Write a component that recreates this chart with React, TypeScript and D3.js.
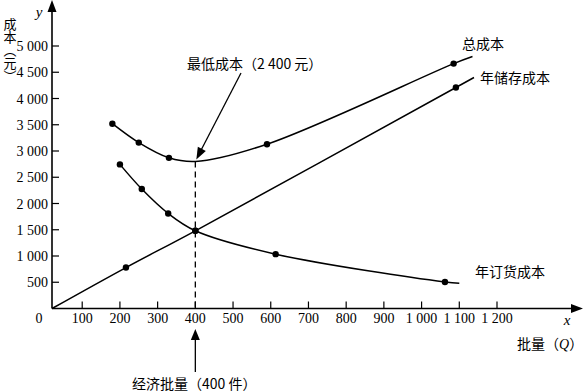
import React from "react";
import * as d3 from "d3";

// axis ticks
const quantityTicks = [100, 200, 300, 400, 500, 600, 700, 800, 900, 1000, 1100, 1200];
const quantityTickLabels = ["100", "200", "300", "400", "500", "600", "700", "800", "900", "1 000", "1 100", "1 200"];
const costTicks = [500, 1000, 1500, 2000, 2500, 3000, 3500, 4000, 4500, 5000];
const costTickLabels = ["500", "1 000", "1 500", "2 000", "2 500", "3 000", "3 500", "4 000", "4 500", "5 000"];

// 总成本
const totalQ = [180, 250, 330, 400, 590, 1085, 1135];
const totalCost = [3520, 3160, 2870, 2800, 3130, 4665, 4800];
const totalDot = [true, true, true, false, true, true, false];

// 年储存成本
const storageQ = [20, 216, 400, 1091, 1139];
const storageCost = [0, 780, 1480, 4210, 4400];
const storageDot = [false, true, true, true, false];

// 年订货成本
const orderQ = [200, 258, 328, 400, 613, 1062, 1100];
const orderCost = [2745, 2275, 1810, 1480, 1035, 505, 480];
const orderDot = [true, true, true, true, true, true, false];

const economicQ = 400;
const minTotal = 2800;

const W = 583;
const H = 392;
const originX = 52;
const serif = "'Liberation Serif', 'Times New Roman', 'DejaVu Serif', serif";
const cjk = "'Noto Sans CJK SC', sans-serif";

// filled arrow head, tip at (x2,y2)
function head(x1: number, y1: number, x2: number, y2: number, len: number, hw: number) {
  const a = Math.atan2(y2 - y1, x2 - x1);
  const bx = x2 - len * Math.cos(a);
  const by = y2 - len * Math.sin(a);
  const px = -Math.sin(a) * hw;
  const py = Math.cos(a) * hw;
  return `${x2},${y2} ${bx + px},${by + py} ${bx - px},${by - py}`;
}

export default function App() {
  const x = d3.scaleLinear().domain([0, 1200]).range([44.5, 497]);
  const y = d3.scaleLinear().domain([0, 5000]).range([308.5, 46]);
  const y0 = y(0);

  const line = d3
    .line<[number, number]>()
    .x((d) => x(d[0]))
    .y((d) => y(d[1]))
    .curve(d3.curveCatmullRom.alpha(0.5));

  const series = [
    { q: totalQ, c: totalCost, dots: totalDot },
    { q: storageQ, c: storageCost, dots: storageDot },
    { q: orderQ, c: orderCost, dots: orderDot },
  ];

  const ex = x(economicQ);
  const numStyle = { fontFamily: serif, fontSize: 14 };
  const cjkStyle = { fontFamily: cjk, fontSize: 14 };

  return (
    <svg
      width={W}
      height={H}
      style={{ position: "absolute", left: 0, top: 0, background: "#fff" }}
    >
      {/* axes */}
      <line x1={originX} y1={y0} x2={W - 8} y2={y0} stroke="#000" strokeWidth={1.6} />
      <polygon points={head(originX, y0, W, y0, 12, 4.5)} fill="#000" />
      <line x1={originX} y1={y0} x2={originX} y2={10} stroke="#000" strokeWidth={1.6} />
      <polygon points={head(originX, y0, originX, 0, 12, 4.5)} fill="#000" />

      {quantityTicks.map((t, i) => (
        <g key={"xt" + t}>
          <line x1={x(t)} x2={x(t)} y1={y0} y2={y0 - 7} stroke="#000" strokeWidth={1.2} />
          <text x={x(t)} y={323} textAnchor="middle" style={numStyle}>
            {quantityTickLabels[i]}
          </text>
        </g>
      ))}
      {costTicks.map((t, i) => (
        <g key={"yt" + t}>
          <line x1={originX} x2={originX + 7} y1={y(t)} y2={y(t)} stroke="#000" strokeWidth={1.2} />
          <text x={48} y={y(t) + 5} textAnchor="end" style={numStyle}>
            {costTickLabels[i]}
          </text>
        </g>
      ))}
      <text x={39} y={323} textAnchor="middle" style={numStyle}>0</text>

      {/* axis titles */}
      <text x={39} y={17} textAnchor="middle" style={{ ...numStyle, fontSize: 15, fontStyle: "italic" }}>y</text>
      <text x={567} y={325} textAnchor="middle" style={{ ...numStyle, fontSize: 15, fontStyle: "italic" }}>x</text>
      <text x={517} y={349} style={cjkStyle}>
        批量（<tspan style={{ fontFamily: serif, fontStyle: "italic" }}>Q</tspan>）
      </text>
      <text x={10} y={18} style={{ ...cjkStyle, fontSize: 13, writingMode: "vertical-rl" }}>
        成本（元）
      </text>

      {/* dashed economic quantity line */}
      <line
        x1={ex}
        x2={ex}
        y1={y(minTotal)}
        y2={y0}
        stroke="#000"
        strokeWidth={1.3}
        strokeDasharray="6,4"
      />

      {/* curves */}
      {series.map((s, si) => (
        <g key={"s" + si}>
          <path
            d={line(s.q.map((q, i) => [q, s.c[i]] as [number, number])) || ""}
            fill="none"
            stroke="#000"
            strokeWidth={1.5}
          />
          {s.q.map((q, i) =>
            s.dots[i] ? <circle key={i} cx={x(q)} cy={y(s.c[i])} r={3.2} fill="#000" /> : null
          )}
        </g>
      ))}

      {/* labels */}
      <g style={cjkStyle}>
        <text x={462} y={49}>总成本</text>
        <text x={480} y={83}>年储存成本</text>
        <text x={475} y={277}>年订货成本</text>
        <text x={187} y={69}>最低成本（2 400 元）</text>
        <text x={132} y={389}>经济批量（400 件）</text>
      </g>

      {/* annotation arrows */}
      <line x1={241} y1={73} x2={ex + 4} y2={y(minTotal) - 8} stroke="#000" strokeWidth={1.3} />
      <polygon points={head(241, 73, ex + 1, y(minTotal) - 2, 12, 4.5)} fill="#000" />
      <line x1={ex} y1={372} x2={ex} y2={338} stroke="#000" strokeWidth={1.3} />
      <polygon points={head(ex, 372, ex, 329, 11, 4.5)} fill="#000" />
    </svg>
  );
}
